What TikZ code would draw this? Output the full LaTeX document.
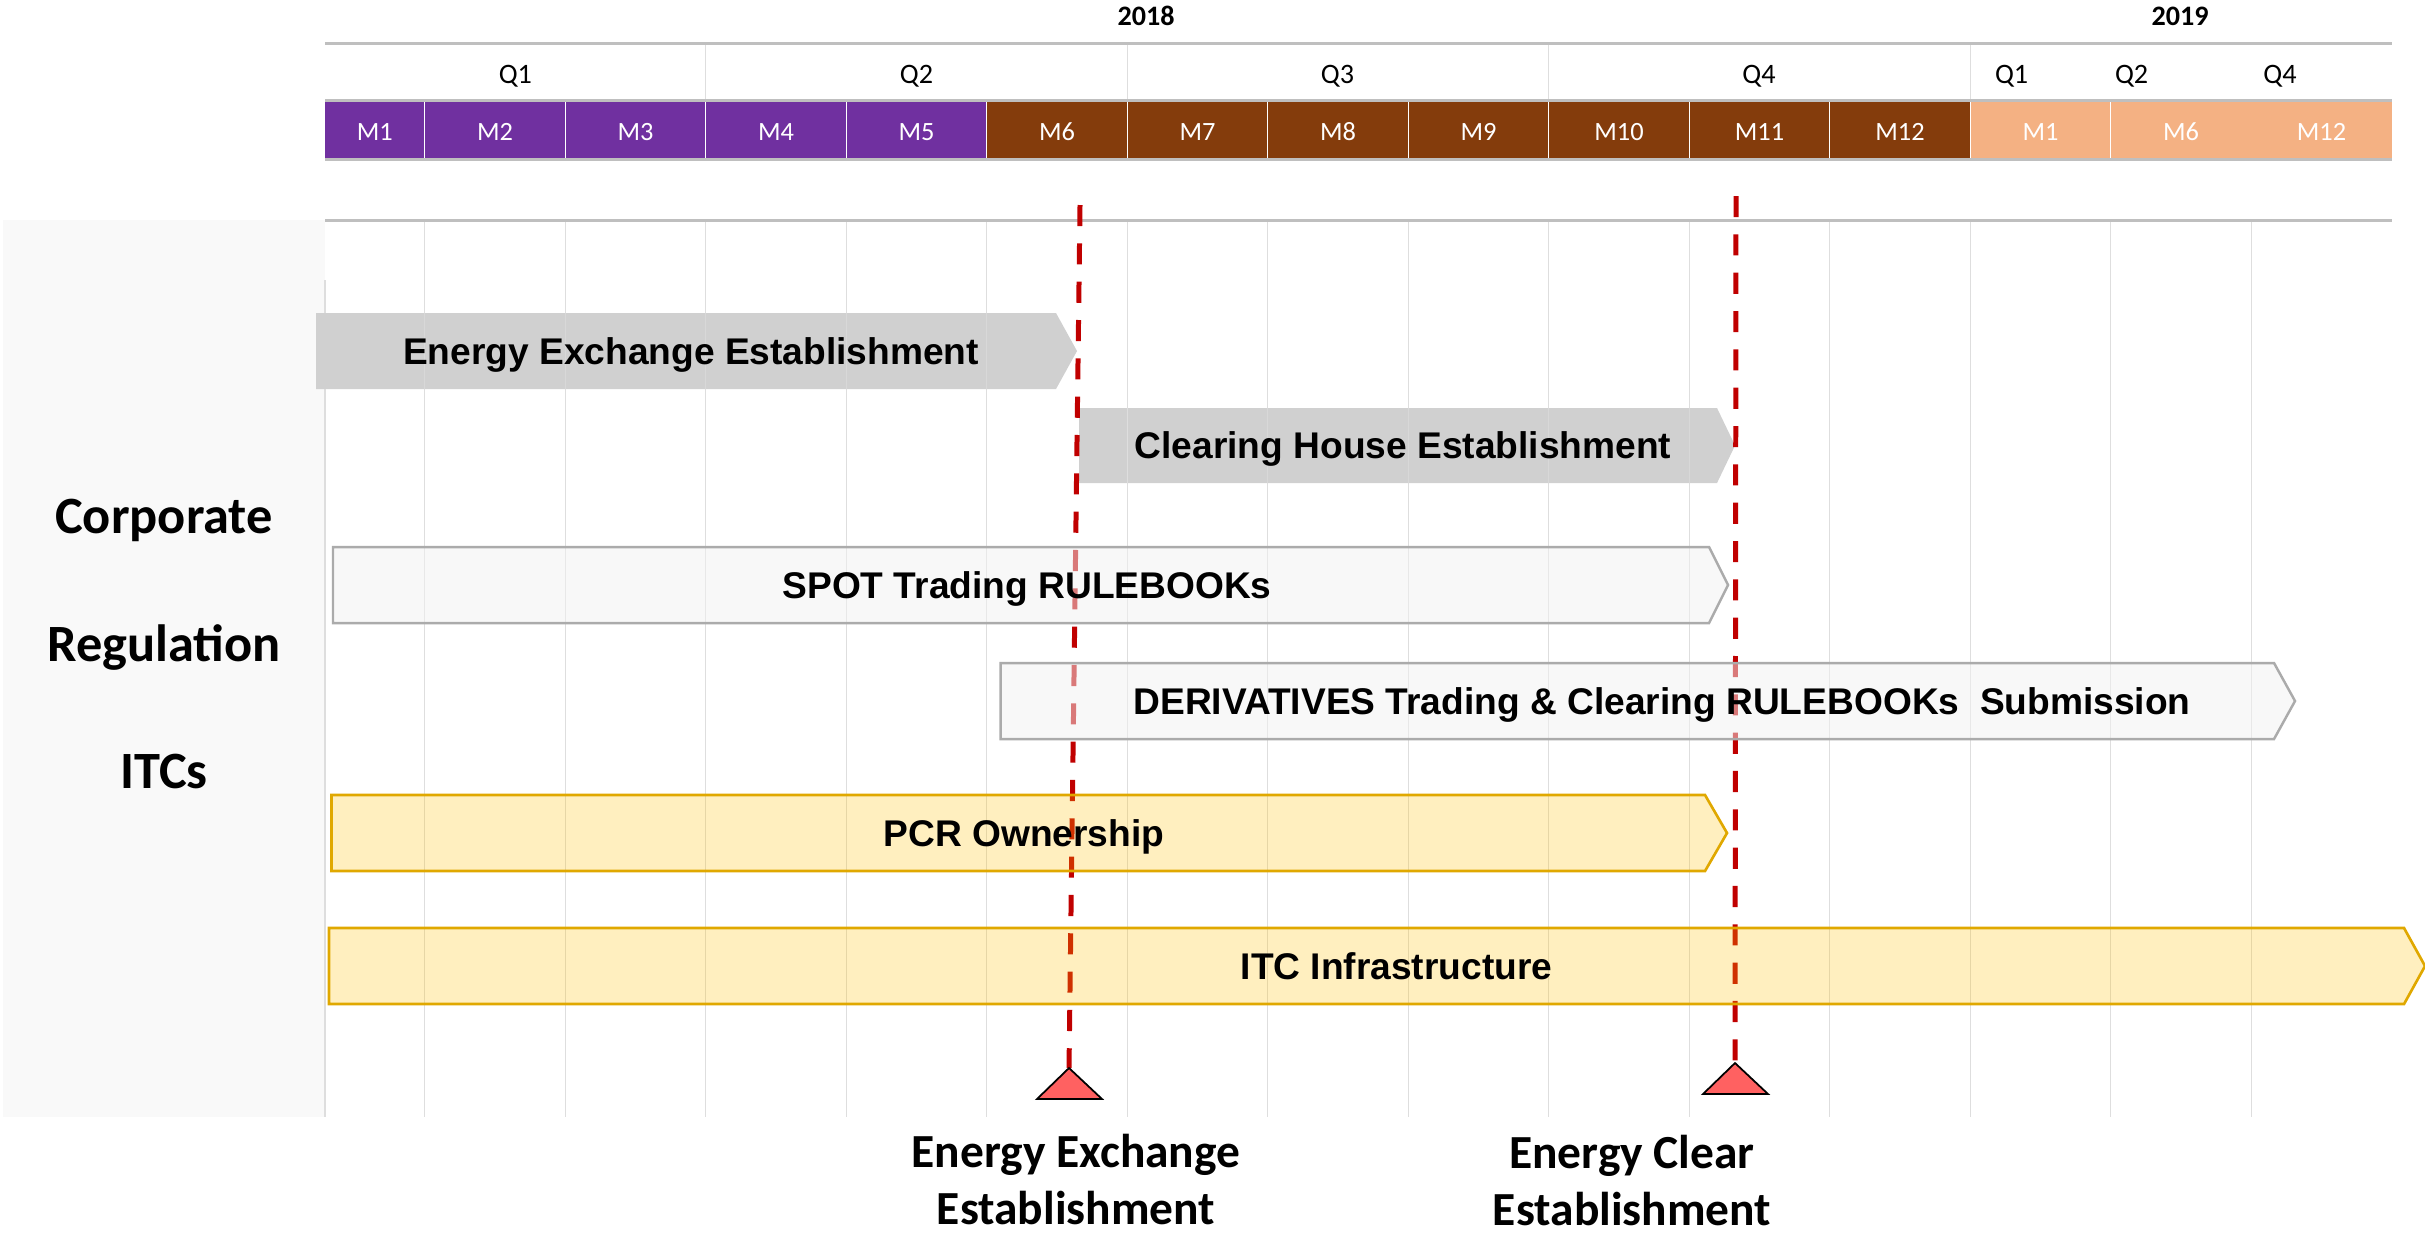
\documentclass[tikz,border=0pt]{standalone}
\usepackage{fontspec}
\setmainfont{Carlito}
\newfontfamily\barfont{Liberation Sans}

\definecolor{purp}{HTML}{7030A0}
\definecolor{brn}{HTML}{843C0C}
\definecolor{peach}{HTML}{F4B183}
\definecolor{rulegray}{HTML}{BFBFBF}
\definecolor{gridgray}{HTML}{DEDEDE}
\definecolor{panel}{HTML}{F9F9F9}
\definecolor{bargray}{HTML}{D0D0D0}
\definecolor{paper}{HTML}{F2F2F2}
\definecolor{paperedge}{HTML}{ABABAB}
\definecolor{gold}{HTML}{FFC000}
\definecolor{goldedge}{HTML}{E0A800}
\definecolor{msred}{HTML}{C00000}
\definecolor{tri}{HTML}{FF6161}

\tikzset{
  hdrline/.style={draw=rulegray, line width=0.85pt},
  gridline/.style={draw=gridgray, line width=0.4pt},
  monthlab/.style={font=\fontsize{7.5}{9}\selectfont, text=white, inner sep=0pt, anchor=base},
  qlab/.style={font=\fontsize{8}{10}\selectfont, inner sep=0pt, anchor=base},
  yearlab/.style={font=\bfseries\fontsize{8}{10}\selectfont, inner sep=0pt, anchor=base},
  sidelab/.style={font=\bfseries\fontsize{14.9}{18}\selectfont, inner sep=0pt, anchor=base},
  mslab/.style={font=\bfseries\fontsize{13.5}{16}\selectfont, inner sep=0pt, anchor=base},
  bartext/.style={font=\barfont\bfseries\fontsize{10.56}{12}\selectfont, inner sep=0pt, anchor=base},
  graybar/.style={fill=bargray, draw=none},
  paperbar/.style={fill=paper, fill opacity=0.5, draw=paperedge, line width=0.7pt},
  goldbar/.style={fill=gold, fill opacity=0.25, draw=goldedge, line width=0.75pt},
  milestone/.style={draw=msred, line width=1.42pt, dash pattern=on 6pt off 4.9pt},
  marker/.style={fill=tri, draw=black, line width=0.5pt, line join=miter}
}

\begin{document}
\begin{tikzpicture}[x=0.01cm, y=-0.01cm]
\useasboundingbox (0,0) rectangle (2425,1232);

% side panel behind the row titles
\fill[panel] (3,220) rectangle (325,1117);

% month grid of the chart body
\draw[gridline] (325,280) -- (325,1117);
\foreach \i in {0,...,13}
  \draw[gridline] ({424.75+140.5*\i},220) -- ({424.75+140.5*\i},1117);

% month strip
\fill[purp] (325,101) rectangle (986.75,159);
\fill[brn] (986.75,101) rectangle (1970.25,159);
\fill[peach] (1970.25,101) rectangle (2392,159);
\foreach \i in {0,...,12}
  \draw[white, line width=0.3pt] ({424.75+140.5*\i},101) -- ({424.75+140.5*\i},159);
\node[monthlab] (m1) at (374.9,140) {M1};
\foreach \lab [count=\k from 0] in {M2,M3,M4,M5,M6,M7,M8,M9,M10,M11,M12,M1,M6,M12}
  \node[monthlab] (mc\k) at ({495+140.5*\k},140) {\lab};

% quarter separators
\foreach \xq in {705.75,1127.25,1548.75,1970.25}
  \draw[gridline] (\xq,44) -- (\xq,100);

% header rules
\draw[hdrline] (325,43.5) -- (2392,43.5);
\draw[hdrline] (325,100.5) -- (2392,100.5);
\draw[hdrline] (325,159.5) -- (2392,159.5);
\draw[hdrline] (325,220) -- (2392,220);

% years and quarters
\node[yearlab] (y2018) at (1146,25) {2018};
\node[yearlab] (y2019) at (2180,25) {2019};
\node[qlab] (q1) at (515.4,83) {Q1};
\node[qlab] (q2) at (916.5,83) {Q2};
\node[qlab] (q3) at (1337.5,83) {Q3};
\node[qlab] (q4) at (1759,83) {Q4};
\node[qlab] (q1b) at (2011.6,83) {Q1};
\node[qlab] (q2b) at (2131.6,83) {Q2};
\node[qlab] (q4b) at (2280,83) {Q4};

% row titles
\node[sidelab] (corp) at (164,533) {Corporate};
\node[sidelab] (regu) at (164,661) {Regulation};
\node[sidelab] (itcs) at (164,788) {ITCs};

% corporate activities
\path[graybar] (316,313) -- (1056,313) -- (1077,351) -- (1056,389) -- (316,389) -- cycle;
\path[graybar] (1079,408) -- (1717,408) -- (1735,445.5) -- (1717,483) -- (1079,483) -- cycle;
\draw[gridline] (1127.25,313) -- (1127.25,483);
\foreach \i in {0,...,8}
  \draw[gridline, draw opacity=0.6] ({424.75+140.5*\i},313) -- ({424.75+140.5*\i},389);
\foreach \i in {5,...,9}
  \draw[gridline, draw opacity=0.6] ({424.75+140.5*\i},408) -- ({424.75+140.5*\i},483);

% milestone markers and their guide lines
\coordinate (d1top) at (1080,205);
\coordinate (d1tip) at (1069,1068);
\coordinate (d2top) at (1736,196);
\coordinate (d2tip) at (1735,1063);
\draw[milestone] (d1top) -- (d1tip);
\draw[milestone] (d2top) -- (d2tip);

% regulation activities
\path[paperbar] (333,547) -- (1709,547) -- (1728,585) -- (1709,623) -- (333,623) -- cycle;
\path[paperbar] (1000.6,663) -- (2274,663) -- (2295,701) -- (2274,739) -- (1000.6,739) -- cycle;

% ITC activities
\path[goldbar] (331.5,795) -- (1705,795) -- (1727,833) -- (1705,871) -- (331.5,871) -- cycle;
\path[goldbar] (329,928) -- (2404,928) -- (2425,966) -- (2404,1004) -- (329,1004) -- cycle;

% activity labels
\node[bartext] (t1) at (691,364.3) {Energy Exchange Establishment};
\node[bartext] (t2) at (1403,458.8) {Clearing House Establishment};
\node[bartext] (t3) at (1027,598) {SPOT Trading RULEBOOKs};
\node[bartext] (t4) at (1662,714.3) {DERIVATIVES Trading \& Clearing RULEBOOKs\ \ Submission};
\node[bartext] (t5) at (1024,846.3) {PCR Ownership};
\node[bartext] (t6) at (1396.5,979.3) {ITC Infrastructure};

% milestone triangles
\draw[marker] (d1tip) -- (1102,1099) -- (1037,1099) -- cycle;
\draw[marker] (d2tip) -- (1768,1094) -- (1703,1094) -- cycle;

% milestone captions
\node[mslab] (ms1a) at (1076,1167) {Energy Exchange};
\node[mslab] (ms1b) at (1076,1224) {Establishment};
\node[mslab] (ms2a) at (1632,1168) {Energy Clear};
\node[mslab] (ms2b) at (1632,1225) {Establishment};
\end{tikzpicture}
\end{document}
